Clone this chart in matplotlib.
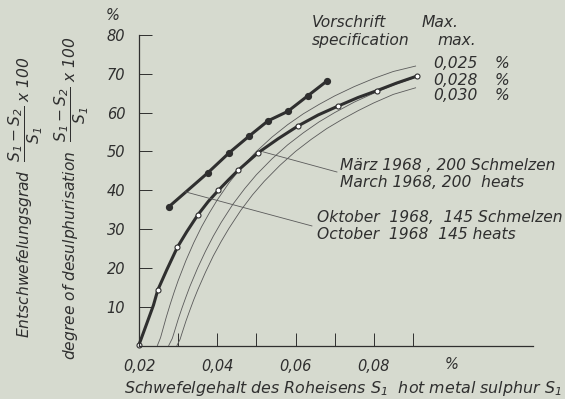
import matplotlib
matplotlib.use("Agg")
import matplotlib.pyplot as plt

W, H = 565, 399
BG = "#d6dacf"; INK = "#2f2f2f"; THIN = "#5a5a5a"
plt.rcParams.update({"font.family": "DejaVu Sans", "font.style": "italic",
                     "mathtext.default": "it", "text.color": INK,
                     "axes.edgecolor": INK, "xtick.color": INK, "ytick.color": INK})

# March 1968, 200 heats (open circles on every other point)
s1_march = [0.0200, 0.0220, 0.0237, 0.0248, 0.0271, 0.0298, 0.0322, 0.0350, 0.0377, 0.0403, 0.0429,
            0.0454, 0.0480, 0.0505, 0.0556, 0.0607, 0.0658, 0.0709, 0.0760, 0.0809, 0.0858, 0.0910]
des_march = [0.2, 5.7, 10.4, 14.3, 19.5, 25.3, 29.3, 33.6, 37.1, 40.0, 42.7,
             45.2, 47.5, 49.7, 53.3, 56.6, 59.4, 61.7, 63.9, 65.7, 67.6, 69.4]
march_marks = [0, 3, 5, 7, 9, 11, 13, 15, 17, 19, 21]

# October 1968, 145 heats (filled dots)
s1_oct = [0.0277, 0.0376, 0.0431, 0.0482, 0.0530, 0.0580, 0.0631, 0.0681]
des_oct = [35.8, 44.5, 49.7, 54.0, 57.9, 60.3, 64.3, 68.2]

# specification limits (max. sulphur after treatment)
s1_spec025 = [0.0247, 0.0255, 0.026, 0.027, 0.028, 0.029, 0.030, 0.032, 0.034, 0.036, 0.038, 0.040,
              0.043, 0.046, 0.050, 0.054, 0.058, 0.062, 0.066, 0.070, 0.075, 0.080, 0.085, 0.0907]
des_spec025 = [0.0, 2.0, 3.8, 7.4, 10.7, 13.8, 16.7, 21.9, 26.5, 30.6, 34.2, 37.5,
               41.9, 45.7, 50.0, 53.7, 56.9, 59.7, 62.1, 64.3, 66.7, 68.8, 70.6, 72.0]
s1_spec028 = [0.0276, 0.0285, 0.029, 0.030, 0.031, 0.032, 0.033, 0.035, 0.037, 0.039, 0.041, 0.044,
              0.047, 0.050, 0.054, 0.058, 0.062, 0.066, 0.070, 0.075, 0.080, 0.085, 0.0907]
des_spec028 = [0.0, 1.8, 3.4, 6.7, 9.7, 12.5, 15.2, 20.0, 24.3, 28.2, 31.7, 36.4,
               40.4, 44.0, 48.1, 51.7, 54.8, 57.6, 60.0, 62.7, 65.0, 67.1, 69.1]
s1_spec030 = [0.0297, 0.0305, 0.031, 0.032, 0.033, 0.034, 0.035, 0.037, 0.039, 0.041, 0.043, 0.046,
              0.049, 0.052, 0.056, 0.060, 0.064, 0.068, 0.072, 0.076, 0.080, 0.085, 0.0907]
des_spec030 = [0.0, 1.6, 3.2, 6.3, 9.1, 11.8, 14.3, 18.9, 23.1, 26.8, 30.2, 34.8,
               38.8, 42.3, 46.4, 50.0, 53.1, 55.9, 58.3, 60.5, 62.5, 64.7, 66.4]

xticks = [0.02, 0.03, 0.04, 0.05, 0.06, 0.07, 0.08, 0.09]
xticklabels = ["0,02", "", "0,04", "", "0,06", "", "0,08", ""]
yticks = [10, 20, 30, 40, 50, 60, 70, 80]

fig = plt.figure(figsize=(W / 100, H / 100), dpi=100, facecolor=BG)
ax = fig.add_axes([139 / W, 1 - 345.5 / H, (533 - 139) / W, (345.5 - 35) / H])
ax.set_facecolor(BG)
ax.set_xlim(0.02, 0.1207)
ax.set_ylim(0, 80)
for sp in ("top", "right"):
    ax.spines[sp].set_visible(False)
for sp in ("left", "bottom"):
    ax.spines[sp].set_linewidth(0.9)

ax.set_xticks(xticks); ax.set_xticklabels(xticklabels, fontsize=10.5)
ax.set_yticks(yticks); ax.set_yticklabels([str(v) for v in yticks], fontsize=10.5)
ax.tick_params(direction="in", length=9.5, width=0.7, pad=10)
ax.text(0.10, -5.0, "%", fontsize=10.5, ha="center", va="center", clip_on=False)
fig.text(113 / W, 1 - 15 / H, "%", fontsize=10.5, ha="center", va="center")

# spec curves
for s, d in ((s1_spec025, des_spec025), (s1_spec028, des_spec028), (s1_spec030, des_spec030)):
    ax.plot(s, d, color=THIN, lw=0.6, clip_on=False)

ax.plot(s1_march, des_march, color=INK, lw=2.2, marker="o", ms=3.6, markevery=march_marks,
        mfc="white", mec=INK, mew=0.8, clip_on=False)
ax.plot(s1_oct, des_oct, color=INK, lw=2.2, marker="o", ms=4.2,
        mfc=INK, mec=INK, clip_on=False)

# leader lines
ax.plot([0.0517, 0.0706], [49.9, 44.7], color=THIN, lw=0.6)
ax.plot([0.0318, 0.0642], [39.6, 30.8], color=THIN, lw=0.6)

fs = 11.2
ax.text(0.0714, 46.5, "März 1968 , 200 Schmelzen", fontsize=fs, va="center")
ax.text(0.0714, 42.1, "March 1968, 200  heats", fontsize=fs, va="center")
ax.text(0.0655, 32.9, "Oktober  1968,  145 Schmelzen", fontsize=fs, va="center")
ax.text(0.0655, 28.5, "October  1968  145 heats", fontsize=fs, va="center")

ax.text(0.0642, 83.1, "Vorschrift", fontsize=fs, va="center", clip_on=False)
ax.text(0.0642, 78.7, "specification", fontsize=fs, va="center", clip_on=False)
ax.text(0.0923, 83.1, "Max.", fontsize=fs, va="center", clip_on=False)
ax.text(0.0964, 78.7, "max.", fontsize=fs, va="center", clip_on=False)
for yv, lab in ((72.6, "0,025"), (68.4, "0,028"), (64.3, "0,030")):
    ax.text(0.0951, yv, lab, fontsize=fs, va="center")
    ax.text(0.1110, yv, "%", fontsize=fs, va="center")

fig.text(0.5 * (122 + 563) / W, 1 - 388 / H,
         "Schwefelgehalt des Roheisens $S_1$  hot metal sulphur $S_1$",
         fontsize=11.4, ha="center", va="center")
fig.text(26 / W, 1 - 197 / H,
         r"Entschwefelungsgrad  $\dfrac{S_1 - S_2}{S_1}$ x 100",
         fontsize=fs, rotation=90, ha="center", va="center")
fig.text(72 / W, 1 - 198 / H,
         r"degree of desulphurisation  $\dfrac{S_1 - S_2}{S_1}$ x 100",
         fontsize=fs, rotation=90, ha="center", va="center")

fig.savefig("out.png", dpi=100, facecolor=BG)
